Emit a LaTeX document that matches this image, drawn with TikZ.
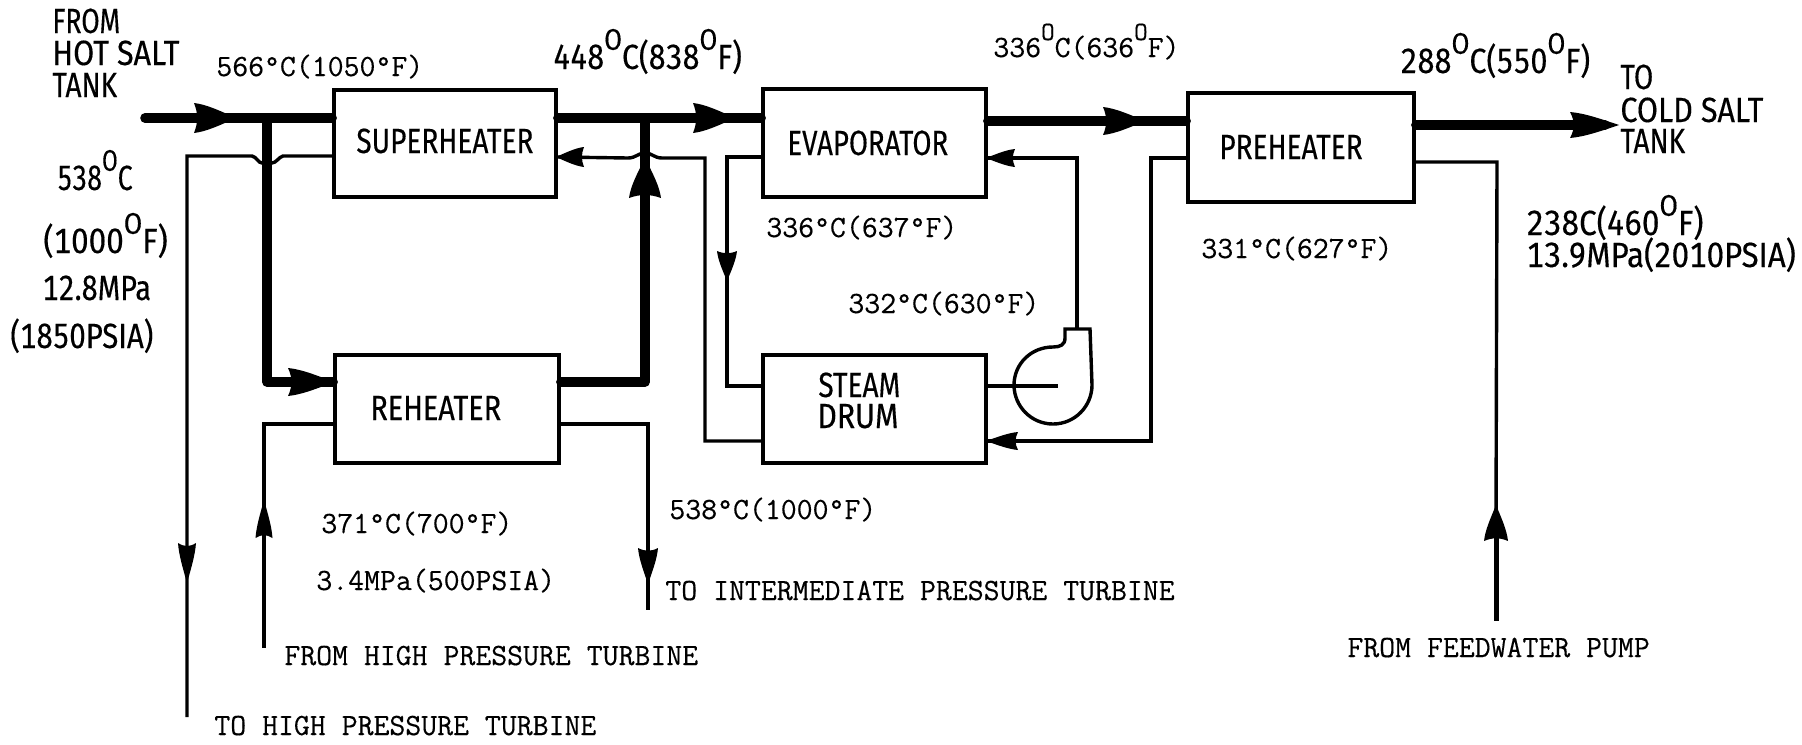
\documentclass[tikz,border=0pt]{standalone}
\usepackage{fontspec}
\usepackage{graphicx}
\setmonofont[FakeBold=0.35]{Latin Modern Mono}
\newfontfamily\gothic[FakeStretch=0.8,FakeBold=0.3,Numbers=Tabular]{Fira Sans}
\newcommand\supO{\raisebox{0.55em}{\scalebox{.85}{O}}}
\newcommand\sx[2]{\scalebox{#1}[1]{#2}}
\newcommand\ahead[4]{\fill[shift={(#1)},rotate=#2] (0,#4) .. controls ({#3*.3},{#4*.9}) and ({#3*.6},{#4*.5}) .. (#3,0) .. controls ({#3*.6},{-#4*.5}) and ({#3*.3},{-#4*.9}) .. (0,-#4) .. controls ({#3*.1},{-#4*.3}) and ({#3*.1},{#4*.3}) .. cycle;}
\tikzset{
  box/.style={draw,line width=1.9pt,inner sep=0pt,rectangle},
  heavy/.style={line width=4.8pt,line join=round,line cap=round},
  pipe/.style={line width=1.7pt,line join=miter},
  glab/.style={anchor=base west,inner sep=0pt,font=\gothic\fontsize{17.5}{17.5}\selectfont},
  tlab/.style={anchor=base west,inner sep=0pt,font=\ttfamily\fontsize{15.45}{15.45}\selectfont},
}
\begin{document}
\begin{tikzpicture}[x=0.5pt,y=-0.5pt]
\useasboundingbox (0,0) rectangle (1802,744);
\fill[white] (0,0) rectangle (1802,744);
% boxes
\node[box,minimum width=111pt,minimum height=53.5pt] (sh) at (445,143.5) {};
\node[box,minimum width=111.5pt,minimum height=54pt] (ev) at (874.5,143) {};
\node[box,minimum width=113pt,minimum height=54.5pt] (ph) at (1301,147.5) {};
\node[box,minimum width=112pt,minimum height=54pt] (rh) at (447,409) {};
\node[box,minimum width=111.5pt,minimum height=54pt] (dr) at (874.5,409) {};
% named points
\coordinate (hot) at (145,118);
\coordinate (brT) at (267,118);
\coordinate (brB) at (267,382);
\coordinate (rtB) at (645,382);
\coordinate (rtT) at (645,118);
\coordinate (m1) at (693,118);
\coordinate (m2) at (1103,121);
\coordinate (m3) at (1570,125);
\coordinate (cold) at (1605,125);
\coordinate (a1) at (194,118);
\coordinate (a2) at (288,382);
\coordinate (a3) at (645,198);
% heavy salt lines
\draw[heavy] (hot) -- (sh.west |- hot);
\draw[heavy] (brT) -- (brB) -- (rh.west |- brB);
\draw[heavy] (sh.east |- m1) -- (ev.west |- m1);
\draw[heavy] (rh.east |- rtB) -- (rtB) -- (rtT);
\draw[heavy] (ev.east |- m2) -- (ph.west |- m2);
\draw[heavy] (ph.east |- m3) -- (cold);
\ahead{a1}{0}{42}{15}
\ahead{a2}{0}{46}{14}
\ahead{m1}{0}{42}{15}
\ahead{m2}{0}{42}{14}
\ahead{m3}{0}{49}{13}
\ahead{a3}{90}{40}{16}
% thin loop: superheater outlet to HP turbine
\coordinate (hpC) at (187,156);
\coordinate (hpE) at (187,717);
\coordinate (hpA) at (187,543);
\draw[pipe] (sh.west |- hpC) -- (283,156) .. controls (279,157) and (276,163) .. (272,163) -- (262,163) .. controls (258,163) and (257,157) .. (252,156) -- (hpC) -- (hpE);
\ahead{hpA}{-90}{40}{9}
% drum to superheater
\coordinate (stT) at (705,158);
\coordinate (stB) at (705,441);
\coordinate (stA) at (584,157);
\draw[pipe] (dr.west |- stB) -- (stB) -- (stT) -- (662,158) .. controls (654,158) and (652,153) .. (645,153) .. controls (638,153) and (636,158) .. (628,158) -- (sh.east |- stA);
\ahead{stA}{180}{28}{10}
% evaporator to drum
\coordinate (edT) at (727,157);
\coordinate (edB) at (727,386);
\coordinate (edA) at (727,251);
\draw[pipe] (ev.west |- edT) -- (edT) -- (edB) -- (dr.west |- edB);
\ahead{edA}{-90}{30}{10}
% pump to evaporator
\coordinate (puT) at (1077,329);
\coordinate (puR) at (1077,158);
\coordinate (puA) at (1015,158);
\draw[pipe] (puT) -- (puR) -- (ev.east |- puR);
\ahead{puA}{180}{29}{9}
% pump
\coordinate (puC) at (1058,386);
\draw[pipe] (dr.east |- puC) -- (puC);
\draw[pipe] (1065,329) -- (1090,329) -- (1092,385)
  .. controls (1092,406) and (1075,424) .. (1053,424)
  .. controls (1031,424) and (1014,406) .. (1014,385)
  .. controls (1014,364) and (1031,347) .. (1053,347)
  .. controls (1060,347) and (1065,345) .. (1065,338) -- cycle;
% preheater to drum
\coordinate (pdT) at (1151,158);
\coordinate (pdB) at (1151,441);
\coordinate (pdA) at (1018,441);
\draw[pipe] (ph.west |- pdT) -- (pdT) -- (pdB) -- (dr.east |- pdB);
\ahead{pdA}{180}{32}{9}
% feedwater
\coordinate (fwT) at (1497,162);
\coordinate (fwM) at (1496,520);
\coordinate (fwB) at (1496,621);
\coordinate (fwA) at (1496,541);
\draw[pipe] (ph.east |- fwT) -- (fwT) -- (fwM);
\draw[line width=2.5pt] (fwM) -- (fwB);
\ahead{fwA}{90}{36}{12}
% reheater cold and hot
\coordinate (rcT) at (264,424);
\coordinate (rcB) at (264,648);
\coordinate (rcA) at (264,538);
\draw[line width=2pt] (rh.west |- rcT) -- (rcT) -- (rcB);
\ahead{rcA}{90}{38}{8.5}
\coordinate (rrT) at (648,424);
\coordinate (rrB) at (648,610);
\coordinate (rrA) at (648,548);
\draw[pipe] (rh.east |- rrT) -- (rrT) -- (rrB);
\ahead{rrA}{-90}{36}{10}
% gothic labels
\node[glab] (t1) at (52,33) {\sx{.95}{FROM}};
\node[glab] (t2) at (52,65) {\sx{1.09}{HOT SALT}};
\node[glab] (t3) at (52,97) {TANK};
\node[glab] (t4) at (553,69) {\sx{1.08}{448\supO C(838\supO F)}};
\node[glab] (t5) at (57,190) {\sx{.95}{538\supO C}};
\node[glab] (t6) at (43,253) {\sx{1.12}{(1000\supO F)}};
\node[glab] (t7) at (42,300) {\sx{1.03}{12.8MPa}};
\node[glab] (t8) at (10,348) {\sx{1.05}{(1850PSIA)}};
\node[glab] (t9) at (356,153) {SUPERHEATER};
\node[glab] (t10) at (787,155) {\sx{.985}{EVAPORATOR}};
\node[glab] (t11) at (1219,159) {PREHEATER};
\node[glab] (t12) at (370,420) {\sx{1.03}{REHEATER}};
\node[glab] (t13) at (818,397) {STEAM};
\node[glab] (t14) at (817,428) {\sx{1.08}{DRUM}};
\node[glab] (t15) at (1400,73) {\sx{1.087}{288\supO C(550\supO F)}};
\node[glab] (t16) at (1620,89) {TO};
\node[glab] (t17) at (1620,122) {\sx{1.09}{COLD SALT}};
\node[glab] (t18) at (1620,153) {TANK};
\node[glab] (t19) at (1526,235) {\sx{1.12}{238C(460\supO F)}};
\node[glab] (t20) at (1526,267) {\sx{1.115}{13.9MPa(2010PSIA)}};
% typewriter labels
\node[tlab] (u1) at (216,76) {566°C(1050°F)};
\node[tlab] (u2) at (993,57) {336\supO C(636\supO F)};
\node[tlab] (u3) at (766,237) {336°C(637°F)};
\node[tlab] (u4) at (848,313) {332°C(630°F)};
\node[tlab] (u5) at (1201,258) {331°C(627°F)};
\node[tlab] (u6) at (321,533) {371°C(700°F)};
\node[tlab] (u7) at (316,590) {3.4MPa(500PSIA)};
\node[tlab] (u8) at (669,519) {538°C(1000°F)};
\node[tlab] (u9) at (665,600) {TO INTERMEDIATE PRESSURE TURBINE};
\node[tlab] (u10) at (284,665) {FROM HIGH PRESSURE TURBINE};
\node[tlab] (u11) at (214,735) {TO HIGH PRESSURE TURBINE};
\node[tlab] (u12) at (1347,657) {FROM FEEDWATER PUMP};
\end{tikzpicture}
\end{document}
